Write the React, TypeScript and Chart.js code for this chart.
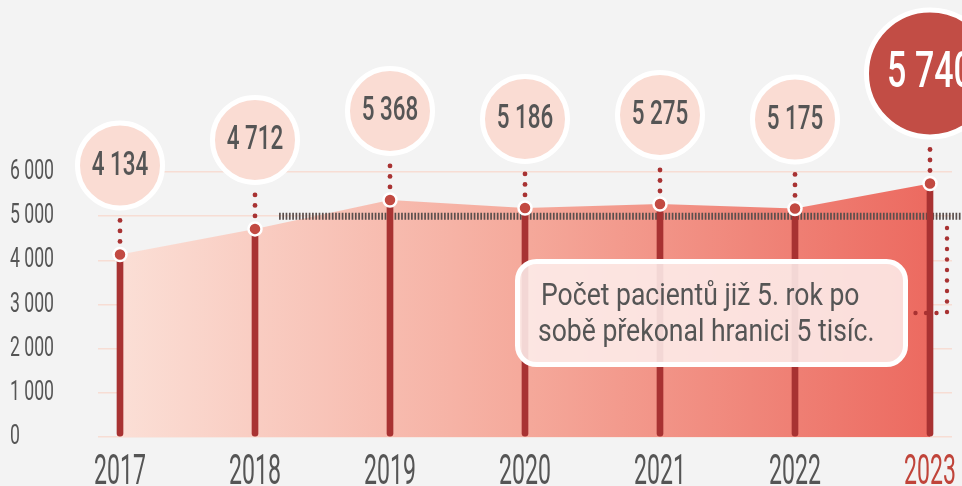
import React, { useEffect, useRef } from "react";
import { Chart, registerables } from "chart.js";

Chart.register(...registerables);

const YEARS = ["2017", "2018", "2019", "2020", "2021", "2022", "2023"];
const PATIENTS = [4134, 4712, 5368, 5186, 5275, 5175, 5740];
const Y_MIN = 0;
const Y_MAX = 6000;
const Y_STEP = 1000;
const THRESHOLD = 5000;
const THRESHOLD_FROM = 1.178; // in year-index units
const THRESHOLD_TO = 6.3;
const NOTE_LINES = ["Počet pacientů již 5. rok po", "sobě překonal hranici 5 tisíc."];

const FONT = "Roboto, 'Liberation Sans', sans-serif";
const GREY = "#555555";
const RED = "#c24a42";
const DARK_RED = "#a83232";

const fmt = (n: number) => String(n).replace(/\B(?=(\d{3})+(?!\d))/g, " ");

function roundRect(ctx: CanvasRenderingContext2D, x: number, y: number, w: number, h: number, r: number) {
  ctx.beginPath();
  ctx.moveTo(x + r, y);
  ctx.lineTo(x + w - r, y);
  ctx.arcTo(x + w, y, x + w, y + r, r);
  ctx.lineTo(x + w, y + h - r);
  ctx.arcTo(x + w, y + h, x + w - r, y + h, r);
  ctx.lineTo(x + r, y + h);
  ctx.arcTo(x, y + h, x, y + h - r, r);
  ctx.lineTo(x, y + r);
  ctx.arcTo(x, y, x + r, y, r);
  ctx.closePath();
}

function dot(ctx: CanvasRenderingContext2D, x: number, y: number, r = 2.4) {
  ctx.beginPath();
  ctx.arc(x, y, r, 0, Math.PI * 2);
  ctx.fill();
}

function condensedText(ctx: CanvasRenderingContext2D, text: string, x: number, y: number, sx: number) {
  ctx.save();
  ctx.translate(x, y);
  ctx.scale(sx, 1);
  ctx.fillText(text, 0, 0);
  ctx.restore();
}

// draw the axis tick labels horizontally condensed (the original uses a condensed typeface)
function condenseLabels(scale: any, factor: number) {
  if (!scale || scale.__condensed) return;
  scale.__condensed = true;
  scale.drawLabels = function (chartArea: any) {
    if (!this.options.ticks.display) return;
    const ctx = this.ctx;
    const items = this.getLabelItems(chartArea);
    for (const item of items) {
      const o = item.options;
      ctx.save();
      ctx.translate(o.translation[0], o.translation[1]);
      if (o.rotation) ctx.rotate(o.rotation);
      ctx.scale(factor, 1);
      ctx.font = item.font.string;
      ctx.fillStyle = o.color;
      ctx.textAlign = o.textAlign;
      ctx.textBaseline = o.textBaseline;
      ctx.fillText(item.label, 0, item.textOffset);
      ctx.restore();
    }
  };
}

const overlayPlugin = {
  id: "overlay",
  afterLayout(chart: any) {
    condenseLabels(chart.scales.x, 0.55);
    condenseLabels(chart.scales.y, 0.63);
  },
  afterDatasetsDraw(chart: any) {
    const { ctx } = chart;
    const xs = chart.scales.x;
    const ys = chart.scales.y;
    ctx.save();

    // annotation box
    const bx = 515, by = 259, bw = 393, bh = 108;
    roundRect(ctx, bx + 2.5, by + 2.5, bw - 5, bh - 5, 19);
    ctx.fillStyle = "rgba(253,238,236,0.88)";
    ctx.fill();
    ctx.lineWidth = 5;
    ctx.strokeStyle = "#ffffff";
    ctx.stroke();
    ctx.fillStyle = GREY;
    ctx.font = `32px ${FONT}`;
    ctx.textAlign = "left";
    ctx.textBaseline = "middle";
    condensedText(ctx, NOTE_LINES[0], 541, 297, 0.83);
    condensedText(ctx, NOTE_LINES[1], 538, 333, 0.83);

    // connector from threshold to note
    ctx.fillStyle = DARK_RED;
    const cx = 947;
    for (let y = 228; y <= 313; y += 10.5) dot(ctx, cx, y, 2.2);
    for (let x = cx - 10.5; x >= 914; x -= 10.5) dot(ctx, x, 313, 2.2);

    // bubbles
    PATIENTS.forEach((v, i) => {
      const px = xs.getPixelForValue(i);
      const py = ys.getPixelForValue(v);
      const last = i === PATIENTS.length - 1;
      ctx.fillStyle = DARK_RED;
      [13, 23.5, 34].forEach((d) => dot(ctx, px, py - d));
      const cy = last ? py - 110 : py - 89;
      const r = last ? 61 : 40;
      ctx.beginPath();
      ctx.arc(px, cy, r + 2.5, 0, Math.PI * 2);
      ctx.fillStyle = last ? "#c24d45" : "#fadcd3";
      ctx.fill();
      ctx.lineWidth = 5;
      ctx.strokeStyle = "#ffffff";
      ctx.stroke();
      ctx.fillStyle = last ? "#ffffff" : GREY;
      ctx.font = last ? `500 50px ${FONT}` : `500 33px ${FONT}`;
      ctx.textAlign = "center";
      ctx.textBaseline = "middle";
      condensedText(ctx, fmt(v), px, cy + 1, 0.68);
    });
    ctx.restore();
  },
};

export default function App() {
  const ref = useRef<HTMLCanvasElement>(null);

  useEffect(() => {
    document.body.style.margin = "0";
    document.body.style.background = "#f3f3f3";
    const canvas = ref.current!;
    const points = PATIENTS.map((v, i) => ({ x: i, y: v }));
    const chart = new Chart(canvas, {
      type: "line",
      data: {
        datasets: [
          {
            type: "line",
            data: points,
            order: 4,
            fill: "origin",
            borderWidth: 0,
            pointRadius: 0,
            tension: 0,
            backgroundColor: (c: any) => {
              const ch = c.chart;
              if (!ch.chartArea) return "#f6b0a4";
              const x0 = ch.scales.x.getPixelForValue(0);
              const x1 = ch.scales.x.getPixelForValue(PATIENTS.length - 1);
              const g = ch.ctx.createLinearGradient(x0, 0, x1, 0);
              g.addColorStop(0, "#fbdfd6");
              g.addColorStop(0.5, "#f5a99b");
              g.addColorStop(1, "#ec6a60");
              return g;
            },
          } as any,
          {
            type: "line",
            data: [
              { x: THRESHOLD_FROM, y: THRESHOLD },
              { x: THRESHOLD_TO, y: THRESHOLD },
            ],
            order: 3,
            clip: false,
            borderColor: "#5b4f4d",
            borderWidth: 7,
            borderDash: [1.7, 1.6],
            pointRadius: 0,
            fill: false,
          } as any,
          {
            type: "bar",
            data: points,
            order: 2,
            backgroundColor: DARK_RED,
            barThickness: 6,
            borderRadius: 3,
            borderSkipped: false,
          } as any,
          {
            type: "line",
            data: points,
            order: 1,
            showLine: false,
            pointRadius: 6.5,
            pointBorderWidth: 2.5,
            pointBorderColor: "#ffffff",
            pointBackgroundColor: RED,
          } as any,
        ],
      },
      options: {
        responsive: false,
        animation: false,
        events: [],
        layout: { padding: { top: 172, left: 10, right: 10, bottom: 0 } },
        plugins: { legend: { display: false }, tooltip: { enabled: false } },
        scales: {
          x: {
            type: "linear",
            offset: false,
            min: -0.163,
            max: PATIENTS.length - 1 + 0.163,
            afterBuildTicks: (s: any) => {
              s.ticks = YEARS.map((_, i) => ({ value: i }));
            },
            afterFit: (s: any) => {
              s.height = 49;
              s.paddingLeft = 0;
              s.paddingRight = 0;
            },
            grid: { display: false, drawTicks: false },
            border: { display: false },
            ticks: {
              padding: 15,
              autoSkip: false,
              maxRotation: 0,
              font: { family: FONT, size: 42, lineHeight: 1 },
              color: (c: any) => (c.tick && c.tick.value === YEARS.length - 1 ? "#c0443a" : GREY),
              callback: (v: any) => YEARS[v],
            },
          },
          y: {
            min: Y_MIN,
            max: Y_MAX,
            afterFit: (s: any) => {
              s.width = 88;
              s.paddingTop = 0;
              s.paddingBottom = 0;
            },
            grid: { color: "#f7ddd4", lineWidth: 1.5, drawTicks: false },
            border: { display: false },
            ticks: {
              stepSize: Y_STEP,
              crossAlign: "far",
              padding: 0,
              font: { family: FONT, size: 28 },
              color: GREY,
              callback: (v: any) => fmt(Number(v)),
            },
          },
        },
      },
      plugins: [overlayPlugin],
    } as any);
    return () => chart.destroy();
  }, []);

  return (
    <div style={{ width: 962, height: 486, background: "#f3f3f3" }}>
      <canvas ref={ref} width={962} height={486} style={{ display: "block" }} />
    </div>
  );
}
